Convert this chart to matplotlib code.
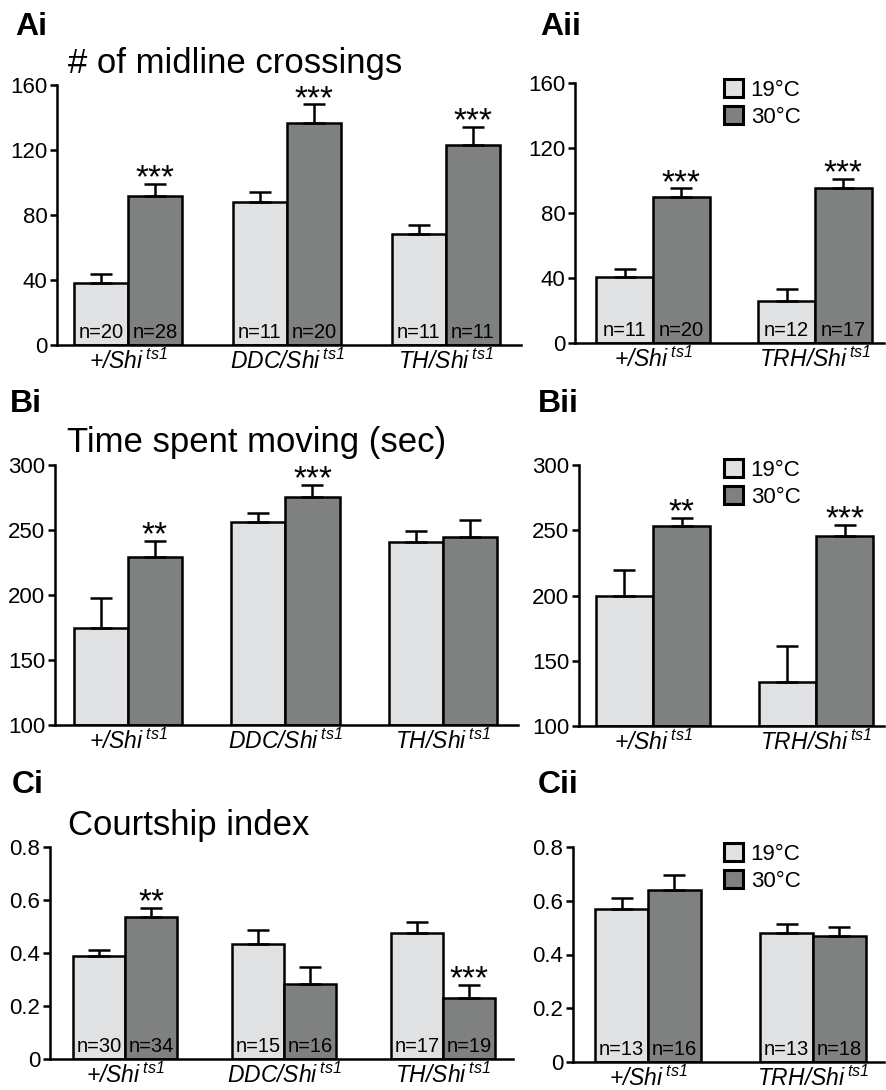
import numpy as np
import matplotlib
matplotlib.use('Agg')
import matplotlib.pyplot as plt
from matplotlib.patches import Patch

plt.rcParams['font.family'] = ['Liberation Sans', 'DejaVu Sans']
plt.rcParams['mathtext.fontset'] = 'custom'
plt.rcParams['mathtext.it'] = 'Liberation Sans:italic'
plt.rcParams['mathtext.rm'] = 'Liberation Sans:italic'
plt.rcParams['mathtext.sf'] = 'Liberation Sans'

# ---------------- data ----------------
genotypes_i = ['+', 'DDC', 'TH']
genotypes_ii = ['+', 'TRH']
temps = ['19°C', '30°C']

# A: # of midline crossings
ai_19 = [38.1, 88.2, 68.5]
ai_19_err = [5.6, 5.8, 5.3]
ai_30 = [91.7, 136.6, 123.1]
ai_30_err = [7.4, 11.5, 10.9]
ai_n19 = [20, 11, 11]
ai_n30 = [28, 20, 11]
ai_sig = ['***', '***', '***']

aii_19 = [40.4, 26.0]
aii_19_err = [5.3, 7.4]
aii_30 = [90.0, 95.2]
aii_30_err = [5.2, 5.8]
aii_n19 = [11, 12]
aii_n30 = [20, 17]
aii_sig = ['***', '***']

# B: time spent moving (sec)
bi_19 = [174.4, 255.9, 241.0]
bi_19_err = [23.1, 6.9, 8.2]
bi_30 = [229.0, 275.4, 244.8]
bi_30_err = [12.8, 9.0, 12.9]
bi_sig = ['**', '***', '']

bii_19 = [199.5, 133.4]
bii_19_err = [19.7, 27.7]
bii_30 = [253.3, 245.4]
bii_30_err = [6.2, 8.4]
bii_sig = ['**', '***']

# C: courtship index
ci_19 = [0.389, 0.434, 0.475]
ci_19_err = [0.022, 0.053, 0.043]
ci_30 = [0.534, 0.284, 0.229]
ci_30_err = [0.036, 0.063, 0.050]
ci_n19 = [30, 15, 17]
ci_n30 = [34, 16, 19]
ci_sig = ['**', '', '***']

cii_19 = [0.571, 0.480]
cii_19_err = [0.039, 0.032]
cii_30 = [0.641, 0.468]
cii_30_err = [0.053, 0.036]
cii_n19 = [13, 13]
cii_n30 = [16, 18]
cii_sig = ['', '']

yticks_a = [0, 40, 80, 120, 160]
yticks_b = [100, 150, 200, 250, 300]
yticks_c = [0, 0.2, 0.4, 0.6, 0.8]
yticklabels_c = ['0', '0.2', '0.4', '0.6', '0.8']

# ---------------- style ----------------
LIGHT = '#dfe1e3'
DARK = '#7f8181'
W, H = 886, 1090
LW = 1.8

fig = plt.figure(figsize=(W / 100, H / 100), dpi=100)


def label_for(g):
    return r'$\mathit{' + g + r'/Shi}^{\,\mathit{ts1}}$'


def panel(box, xlim, width, genos, v19, e19, v30, e30, yticks, ytl, sig,
          n19=None, n30=None, legend_top=None):
    l, t, r, b = box
    ax = fig.add_axes([l / W, 1 - b / H, (r - l) / W, (b - t) / H])
    x = np.arange(len(genos))
    base = yticks[0]
    v19 = np.array(v19); v30 = np.array(v30)
    ax.bar(x - width / 2, v19 - base, width, bottom=base, color=LIGHT,
           edgecolor='black', linewidth=LW, zorder=2)
    ax.bar(x + width / 2, v30 - base, width, bottom=base, color=DARK,
           edgecolor='black', linewidth=LW, zorder=2)
    ax.errorbar(x - width / 2, v19, yerr=[np.zeros(len(x)), e19], fmt='none',
                ecolor='black', elinewidth=LW, capsize=8, capthick=LW, zorder=3)
    ax.errorbar(x + width / 2, v30, yerr=[np.zeros(len(x)), e30], fmt='none',
                ecolor='black', elinewidth=LW, capsize=8, capthick=LW, zorder=3)
    for xi, v, e, s in zip(x, v30, e30, sig):
        if s:
            ax.annotate(s, (xi + width / 2, v + e), xytext=(0, -2.5),
                        textcoords='offset points', ha='center', va='baseline',
                        fontsize=24, zorder=4)
    if n19 is not None:
        for xi, n in zip(x, n19):
            ax.annotate(f'n={n}', (xi - width / 2, base), xytext=(0, 5.2),
                        textcoords='offset points', ha='center', va='baseline',
                        fontsize=14.5, zorder=4)
        for xi, n in zip(x, n30):
            ax.annotate(f'n={n}', (xi + width / 2, base), xytext=(0, 5.2),
                        textcoords='offset points', ha='center', va='baseline',
                        fontsize=14.5, zorder=4)
    ax.set_xlim(*xlim)
    ax.set_ylim(yticks[0], yticks[-1])
    ax.set_yticks(yticks)
    ax.set_yticklabels(ytl)
    ax.set_xticks(x)
    ax.set_xticklabels([label_for(g) for g in genos], fontsize=16.5)
    ax.tick_params(axis='x', length=0, pad=3)
    ax.tick_params(axis='y', direction='out', length=5, width=LW, labelsize=16, pad=2)
    for sp in ['top', 'right']:
        ax.spines[sp].set_visible(False)
    for sp in ['left', 'bottom']:
        ax.spines[sp].set_linewidth(LW)
    if legend_top is not None:
        handles = [Patch(facecolor=LIGHT, edgecolor='black', linewidth=2.2),
                   Patch(facecolor=DARK, edgecolor='black', linewidth=2.2)]
        ax.legend(handles, temps, loc='upper left',
                  bbox_to_anchor=(724 / W, 1 - legend_top / H),
                  bbox_transform=fig.transFigure, frameon=False, fontsize=16,
                  handlelength=0.85, handleheight=0.85, handletextpad=0.35,
                  labelspacing=0.25, borderpad=0, borderaxespad=0)
    return ax


panel((57, 85, 521, 345), (-0.447, 2.472), 0.34, genotypes_i,
      ai_19, ai_19_err, ai_30, ai_30_err, yticks_a, [str(v) for v in yticks_a],
      ai_sig, ai_n19, ai_n30)
panel((575, 83, 884, 343), (-0.481, 1.426), 0.35, genotypes_ii,
      aii_19, aii_19_err, aii_30, aii_30_err, yticks_a, [str(v) for v in yticks_a],
      aii_sig, aii_n19, aii_n30, legend_top=79)
panel((55, 465, 518, 725), (-0.463, 2.476), 0.343, genotypes_i,
      bi_19, bi_19_err, bi_30, bi_30_err, yticks_b, [str(v) for v in yticks_b],
      bi_sig)
panel((579, 465, 884, 726), (-0.454, 1.417), 0.35, genotypes_ii,
      bii_19, bii_19_err, bii_30, bii_30_err, yticks_b, [str(v) for v in yticks_b],
      bii_sig, legend_top=459)
panel((50, 847, 513, 1059), (-0.472, 2.44), 0.327, genotypes_i,
      ci_19, ci_19_err, ci_30, ci_30_err, yticks_c, yticklabels_c,
      ci_sig, ci_n19, ci_n30)
panel((573, 847, 884, 1062), (-0.455, 1.43), 0.32, genotypes_ii,
      cii_19, cii_19_err, cii_30, cii_30_err, yticks_c, yticklabels_c,
      cii_sig, cii_n19, cii_n30, legend_top=843)

# panel letters
for txt, px, py in [('Ai', 15, 35), ('Aii', 540, 35), ('Bi', 10, 412),
                    ('Bii', 538, 412), ('Ci', 12, 793), ('Cii', 538, 793)]:
    fig.text(px / W, 1 - py / H, txt, fontsize=23, fontweight='bold', va='baseline')

# titles
for txt, px, py in [('# of midline crossings', 68, 73),
                    ('Time spent moving (sec)', 67, 452),
                    ('Courtship index', 68, 835)]:
    fig.text(px / W, 1 - py / H, txt, fontsize=25, va='baseline')

fig.savefig('out.png', dpi=100)
